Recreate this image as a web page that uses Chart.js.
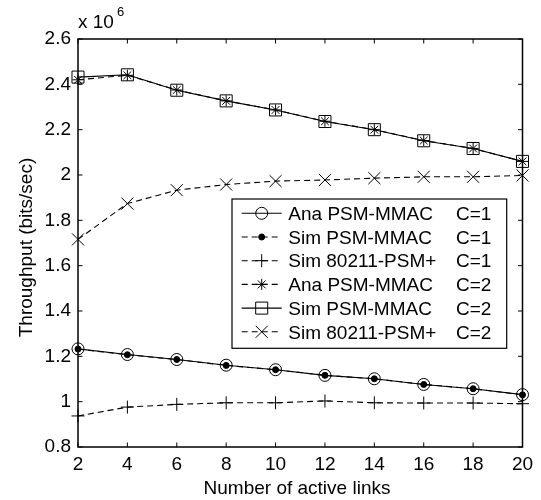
<!DOCTYPE html>
<html>
<head>
<meta charset="utf-8">
<script src="https://cdn.jsdelivr.net/npm/chart.js@4/dist/chart.umd.min.js"></script>
<style>
  html, body { margin: 0; padding: 0; background: #fff; }
  #c { display: block; }
</style>
</head>
<body>
<canvas id="c" width="541" height="500"></canvas>
<script>
// ---- data ----
const xValues = [2, 4, 6, 8, 10, 12, 14, 16, 18, 20];
const anaPsmC1    = [1.233, 1.208, 1.186, 1.161, 1.141, 1.116, 1.101, 1.076, 1.057, 1.031];
const simPsmC1    = [1.232, 1.207, 1.186, 1.160, 1.141, 1.116, 1.101, 1.076, 1.057, 1.030];
const sim80211C1  = [0.937, 0.976, 0.988, 0.995, 0.995, 1.003, 0.995, 0.994, 0.994, 0.991];
const anaPsmC2    = [2.420, 2.440, 2.375, 2.327, 2.287, 2.237, 2.200, 2.152, 2.117, 2.060];
const simPsmC2    = [2.432, 2.442, 2.374, 2.327, 2.287, 2.236, 2.200, 2.151, 2.117, 2.060];
const sim80211C2  = [1.716, 1.874, 1.933, 1.958, 1.973, 1.978, 1.986, 1.992, 1.992, 1.998];
const seriesNames = ['Ana PSM-MMAC', 'Sim PSM-MMAC', 'Sim 80211-PSM+', 'Ana PSM-MMAC', 'Sim PSM-MMAC', 'Sim 80211-PSM+'];
const seriesChannels = ['C=1', 'C=1', 'C=1', 'C=2', 'C=2', 'C=2'];
const xTicks = [2, 4, 6, 8, 10, 12, 14, 16, 18, 20];
const yTicks = [0.8, 1.0, 1.2, 1.4, 1.6, 1.8, 2.0, 2.2, 2.4, 2.6];
const xTitle = 'Number of active links';
const yTitle = 'Throughput (bits/sec)';
const scaleBase = 'x 10';
const scaleExp = '6';

const FONT = '"Liberation Sans", Arial, sans-serif';
const DASH = [6, 4];

function pts(arr) { return xValues.map((x, i) => ({ x: x, y: arr[i] })); }

const styles = [
  { data: anaPsmC1,   dash: [],   pointStyle: 'circle',   radius: 6,   fill: 'transparent', bw: 1 },
  { data: simPsmC1,   dash: DASH, pointStyle: 'circle',   radius: 3,   fill: '#000',        bw: 1 },
  { data: sim80211C1, dash: DASH, pointStyle: 'cross',    radius: 6.5, fill: 'transparent', bw: 1 },
  { data: anaPsmC2,   dash: DASH, pointStyle: 'star',     radius: 5.5, fill: 'transparent', bw: 1 },
  { data: simPsmC2,   dash: [],   pointStyle: 'rect',     radius: 8.5, fill: 'transparent', bw: 1 },
  { data: sim80211C2, dash: DASH, pointStyle: 'crossRot', radius: 8.5, fill: 'transparent', bw: 1 }
];

const datasets = styles.map((s, i) => ({
  label: seriesNames[i] + '  ' + seriesChannels[i],
  data: pts(s.data),
  borderColor: '#000',
  borderWidth: 1.1,
  borderDash: s.dash,
  pointStyle: s.pointStyle,
  pointRadius: s.radius,
  pointBorderColor: '#000',
  pointBackgroundColor: s.fill,
  pointBorderWidth: s.bw,
  tension: 0,
  fill: false,
  clip: false
}));

const framePlugin = {
  id: 'frame',
  afterDraw(chart) {
    const ctx = chart.ctx;
    const a = chart.chartArea;
    const xs = chart.scales.x, ys = chart.scales.y;
    ctx.save();
    // box
    ctx.strokeStyle = '#000';
    ctx.lineWidth = 1.5;
    ctx.setLineDash([]);
    ctx.strokeRect(a.left, a.top, a.right - a.left, a.bottom - a.top);
    // inward ticks
    ctx.lineWidth = 1;
    const tl = 4.5;
    ctx.beginPath();
    xTicks.forEach(v => {
      const px = xs.getPixelForValue(v);
      ctx.moveTo(px, a.bottom); ctx.lineTo(px, a.bottom - tl);
      ctx.moveTo(px, a.top); ctx.lineTo(px, a.top + tl);
    });
    yTicks.forEach(v => {
      const py = ys.getPixelForValue(v);
      ctx.moveTo(a.left, py); ctx.lineTo(a.left + tl, py);
      ctx.moveTo(a.right, py); ctx.lineTo(a.right - tl, py);
    });
    ctx.stroke();

    // axis titles
    ctx.fillStyle = '#000';
    ctx.font = '19px ' + FONT;
    ctx.textAlign = 'center';
    ctx.textBaseline = 'alphabetic';
    ctx.fillText(xTitle, 297, 494);
    ctx.save();
    ctx.translate(31.5, 247.5);
    ctx.rotate(-Math.PI / 2);
    ctx.fillText(yTitle, 0, 0);
    ctx.restore();

    // exponent label
    ctx.textAlign = 'left';
    ctx.font = '19px ' + FONT;
    ctx.fillText(scaleBase, a.left, 28.3);
    const w = ctx.measureText(scaleBase).width;
    ctx.font = '13px ' + FONT;
    ctx.fillText(scaleExp, a.left + w + 3, 15.7);

    // legend
    const L = 232, T = 199, R = 506.7, B = 348.3;
    ctx.fillStyle = '#fff';
    ctx.fillRect(L, T, R - L, B - T);
    ctx.strokeStyle = '#000';
    ctx.lineWidth = 1.2;
    ctx.strokeRect(L, T, R - L, B - T);
    chart.data.datasets.forEach((ds, i) => {
      const base = 220 + 23.7 * i;
      const cy = base - 6.7;
      ctx.strokeStyle = '#000';
      ctx.lineWidth = 1.1;
      ctx.setLineDash(ds.borderDash);
      ctx.beginPath();
      ctx.moveTo(241.7, cy);
      ctx.lineTo(281.7, cy);
      ctx.stroke();
      ctx.setLineDash([]);
      ctx.fillStyle = ds.pointBackgroundColor;
      ctx.strokeStyle = '#000';
      ctx.lineWidth = ds.pointBorderWidth;
      Chart.helpers.drawPoint(ctx, {
        pointStyle: ds.pointStyle,
        radius: ds.pointRadius,
        rotation: 0,
        borderWidth: ds.pointBorderWidth
      }, 261.7, cy);
      ctx.fillStyle = '#000';
      ctx.font = '19px ' + FONT;
      ctx.textAlign = 'left';
      ctx.textBaseline = 'alphabetic';
      ctx.fillText(seriesNames[i], 288.3, base);
      ctx.fillText(seriesChannels[i], 456, base);
    });
    ctx.restore();
  }
};

new Chart(document.getElementById('c'), {
  type: 'line',
  data: { datasets: datasets },
  options: {
    responsive: false,
    animation: false,
    devicePixelRatio: 1,
    layout: { padding: { top: 39, right: 18.5, left: 0, bottom: 0 } },
    plugins: { legend: { display: false }, tooltip: { enabled: false } },
    scales: {
      x: {
        type: 'linear',
        min: 2, max: 20,
        afterBuildTicks: s => { s.ticks = xTicks.map(v => ({ value: v })); },
        afterFit: s => { s.height = 53; },
        grid: { display: false, drawTicks: false },
        border: { display: false },
        ticks: {
          padding: 6,
          color: '#000',
          font: { family: FONT, size: 19 },
          maxRotation: 0,
          callback: v => String(v)
        }
      },
      y: {
        type: 'linear',
        min: 0.8, max: 2.6,
        afterBuildTicks: s => { s.ticks = yTicks.map(v => ({ value: v })); },
        afterFit: s => { s.width = 78; },
        grid: { display: false, drawTicks: false },
        border: { display: false },
        ticks: {
          padding: 7,
          color: '#000',
          font: { family: FONT, size: 19 },
          callback: v => String(Number(Number(v).toFixed(1)))
        }
      }
    }
  },
  plugins: [framePlugin]
});
</script>
</body>
</html>
